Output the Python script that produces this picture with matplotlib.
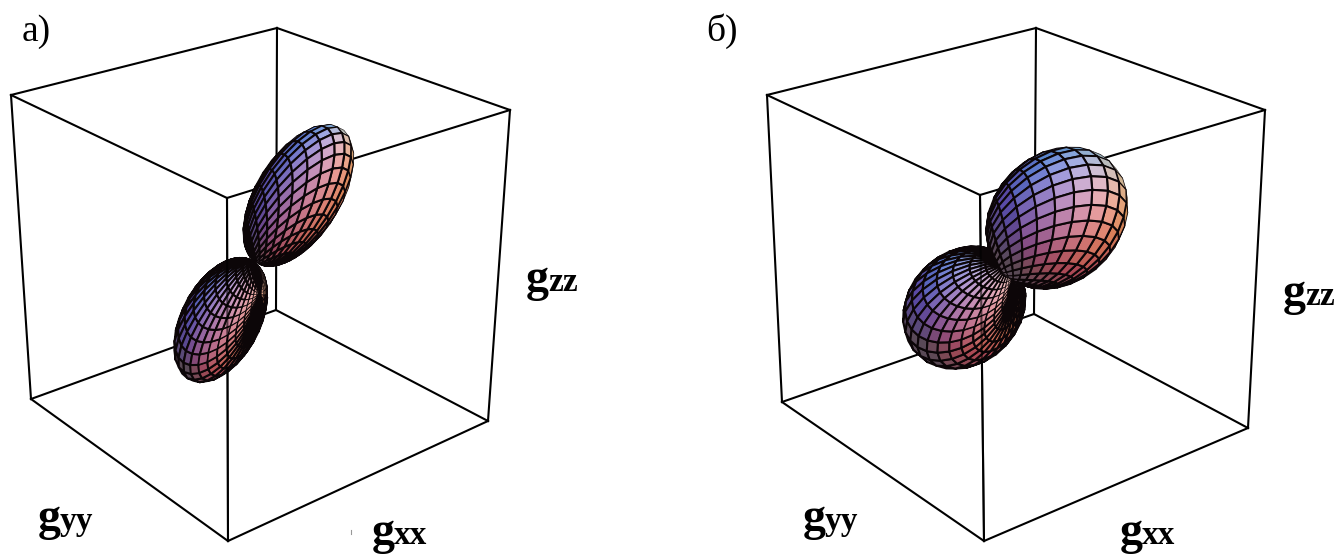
import numpy as np
import matplotlib
matplotlib.use('Agg')
import matplotlib.pyplot as plt
from matplotlib.collections import PolyCollection

# box corners, pixels (top ring, bottom ring)
box_a_top = [(11, 95), (277, 28), (510, 110), (227, 198)]
box_a_bottom = [(31, 399), (276, 310), (488, 421), (228, 541)]
box_b_top = [(767, 95), (1036, 28), (1265, 110), (980, 195)]
box_b_bottom = [(782, 402), (1034, 314), (1248, 428), (984, 541)]

# lobes: tip, axis direction (screen x, y up, towards viewer), length, width, roll
lobes_a = [((257, 262), (0.50, 0.80, 0.25), 163, 84, 0.45),
           ((252, 261), (-0.45, -0.85, -0.18), 136, 78, 0.45)]
lobes_b = [((1007, 268), (0.62, 0.62, 0.48), 162, 128, 0.3),
           ((1008, 264), (-0.62, -0.62, -0.40), 136, 112, 0.3)]

panel_labels = ['а)', 'б)']
panel_label_x = [22, 706]


def draw_box(ax, top, bottom):
    for i in range(4):
        j = (i + 1) % 4
        ax.plot([top[i][0], top[j][0]], [top[i][1], top[j][1]], color='k', lw=1.5, zorder=1)
        ax.plot([bottom[i][0], bottom[j][0]], [bottom[i][1], bottom[j][1]], color='k', lw=1.5, zorder=1)
        ax.plot([top[i][0], bottom[i][0]], [top[i][1], bottom[i][1]], color='k', lw=1.5, zorder=1)


def lobe_faces(tip, axis, length, width, roll, tilt=0.55, n_th=28, n_ph=44):
    # polar mesh about a tilted vertical axis, radius goes to 0 at the tip
    e = np.array(axis, float)
    e = e / np.linalg.norm(e)
    th = np.linspace(0, np.pi, n_th + 1)
    ph = np.linspace(0, 2 * np.pi, n_ph + 1)
    th, ph = np.meshgrid(th, ph, indexing='ij')
    d = np.stack([np.sin(th) * np.cos(ph), np.cos(th), np.sin(th) * np.sin(ph)], axis=-1)
    c, s = np.cos(tilt), np.sin(tilt)
    d = d @ np.array([[1, 0, 0], [0, c, s], [0, -s, c]]).T
    cr, sr = np.cos(roll), np.sin(roll)
    d = d @ np.array([[cr, -sr, 0], [sr, cr, 0], [0, 0, 1]]).T
    r = np.clip(d @ e, 0, None)
    q = d * r[..., None]
    along = q @ e
    perp = q - along[..., None] * e
    p = along[..., None] * e * length + perp * width
    # surface normal of the stretched sphere
    sph = q - e / 2
    sa = sph @ e
    nrm = (sa / length)[..., None] * e + (sph - sa[..., None] * e) / width
    nrm = nrm / np.linalg.norm(nrm, axis=-1, keepdims=True)

    lights = np.array([[1, 0, 1], [1, 1, 1], [0, 1, 1]], float)
    lights = lights / np.linalg.norm(lights, axis=1, keepdims=True)

    faces, colors, depth, widths = [], [], [], []
    for i in range(n_th):
        for j in range(n_ph):
            idx = [(i, j), (i + 1, j), (i + 1, j + 1), (i, j + 1)]
            if max(r[k] for k in idx) < 0.015:
                continue
            n = np.mean([nrm[k] for k in idx], axis=0)
            if n[2] < -0.02:
                continue
            n = n / np.linalg.norm(n)
            rgb = 0.34 + 0.56 * np.clip(lights @ n, 0, None)
            rgb = rgb * np.array([1.03, 0.84, 0.98])
            xy = [(tip[0] + p[k][0], tip[1] - p[k][1]) for k in idx]
            # small cells near the tip get thin edges, else they go solid black
            size = max(abs(xy[2][0] - xy[0][0]), abs(xy[2][1] - xy[0][1]))
            faces.append(xy)
            colors.append(np.clip(rgb, 0, 1))
            depth.append(np.mean([p[k][2] for k in idx]))
            widths.append(np.clip(size / 7, 0.35, 1.5))
    order = np.argsort(depth)
    return [faces[i] for i in order], [colors[i] for i in order], [widths[i] for i in order]


def draw_lobe(ax, lobe, z):
    faces, colors, widths = lobe_faces(*lobe)
    coll = PolyCollection(faces, facecolors=colors, edgecolors='#0c0608', linewidths=widths, zorder=z)
    ax.add_collection(coll)


def g_label(ax, x, y, sub):
    ax.text(x, y, 'g', fontsize=33, fontweight='bold', family='Liberation Serif', va='baseline', ha='left')
    ax.text(x + 22, y, sub, fontsize=24, fontweight='bold', family='Liberation Serif', va='baseline', ha='left')


fig = plt.figure(figsize=(13.36, 5.56), dpi=100)
ax = fig.add_axes([0, 0, 1, 1])
ax.set_xlim(0, 1336)
ax.set_ylim(556, 0)
ax.axis('off')

draw_box(ax, box_a_top, box_a_bottom)
draw_box(ax, box_b_top, box_b_bottom)

# lower lobes first, the upper ones sit in front of them
draw_lobe(ax, lobes_a[1], 2)
draw_lobe(ax, lobes_a[0], 3)
draw_lobe(ax, lobes_b[1], 2)
draw_lobe(ax, lobes_b[0], 3)

# the front vertical edge shows through the lower lobe
ax.plot([box_a_top[3][0], box_a_bottom[3][0]], [box_a_top[3][1], box_a_bottom[3][1]], color='k', lw=1.5, alpha=0.6, zorder=4)
ax.plot([box_b_top[3][0], box_b_bottom[3][0]], [box_b_top[3][1], box_b_bottom[3][1]], color='k', lw=1.5, alpha=0.6, zorder=4)

for lab, x in zip(panel_labels, panel_label_x):
    ax.text(x, 41, lab, fontsize=27, family='Liberation Serif', va='baseline', ha='left')

g_label(ax, 38, 530, 'yy')
g_label(ax, 372, 544, 'xx')
g_label(ax, 526, 291, 'zz')
g_label(ax, 803, 530, 'yy')
g_label(ax, 1120, 544, 'xx')
g_label(ax, 1283, 305, 'zz')
ax.plot([351, 351], [530, 534], color='#999999', lw=0.8)

fig.savefig('out.png', dpi=100)
